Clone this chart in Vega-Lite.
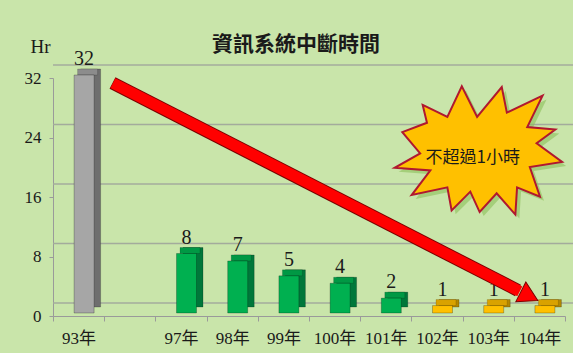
{
  "$schema": "https://vega.github.io/schema/vega-lite/v6.json",
  "width": 512,
  "height": 238,
  "autosize": {"type": "none"},
  "padding": {"left": 53, "top": 78, "right": 8, "bottom": 37},
  "background": "#c9e5aa",
  "config": {"view": {"stroke": null}, "font": "Liberation Serif"},
  "title": {
    "text": "資訊系統中斷時間",
    "font": "Noto Sans CJK TC",
    "fontSize": 21,
    "fontWeight": "bold",
    "color": "#1a1a1a",
    "anchor": "middle",
    "dx": -13,
    "dy": 18,
    "offset": 0
  },
  "encoding": {
    "y": {
      "field": "value",
      "type": "quantitative",
      "scale": {"domain": [0, 32], "nice": false, "zero": true},
      "axis": {
        "values": [0, 8, 16, 24, 32],
        "grid": false,
        "domainColor": "#9a9a9a",
        "tickColor": "#9a9a9a",
        "tickSize": 4,
        "labelPadding": 8,
        "labelFont": "Liberation Serif",
        "labelFontSize": 17,
        "labelColor": "#1a1a1a",
        "title": "Hr",
        "titleAngle": 0,
        "titleX": -13,
        "titleY": -32,
        "titleAlign": "center",
        "titleBaseline": "middle",
        "titleFont": "Liberation Serif",
        "titleFontSize": 19,
        "titleFontWeight": "normal",
        "titleColor": "#1a1a1a"
      }
    }
  },
  "layer": [
    {
      "data": {"values": [{"value": 0}, {"value": 8}, {"value": 16}, {"value": 24}, {"value": 32}]},
      "mark": {"type": "rule", "color": "#a3ab9c", "strokeWidth": 1.3, "xOffset": 20, "x2Offset": 2, "yOffset": -13}
    },
    {
      "data": {
        "values": [
          {"year": "93年", "value": 32, "group": "a"},
          {"year": "97年", "value": 8, "group": "b"},
          {"year": "98年", "value": 7, "group": "b"},
          {"year": "99年", "value": 5, "group": "b"},
          {"year": "100年", "value": 4, "group": "b"},
          {"year": "101年", "value": 2, "group": "b"},
          {"year": "102年", "value": 1, "group": "c"},
          {"year": "103年", "value": 1, "group": "c"},
          {"year": "104年", "value": 1, "group": "c"}
        ]
      },
      "encoding": {
        "x": {
          "field": "year",
          "type": "nominal",
          "sort": null,
          "scale": {
            "domain": ["93年", " ", "97年", "98年", "99年", "100年", "101年", "102年", "103年", "104年"],
            "paddingInner": 0,
            "paddingOuter": 0
          },
          "axis": {
            "title": null,
            "labelAngle": 0,
            "tickBand": "extent",
            "domainColor": "#9a9a9a",
            "tickColor": "#9a9a9a",
            "tickSize": 5,
            "labelPadding": 9,
            "labelFont": "Liberation Serif, Noto Sans CJK TC",
            "labelFontSize": 17,
            "labelColor": "#1a1a1a"
          }
        }
      },
      "layer": [
        {
          "mark": {"type": "bar", "width": 20, "xOffset": 12, "yOffset": -9, "y2Offset": -5, "stroke": "black", "strokeOpacity": 0.3, "strokeWidth": 0.7},
          "encoding": {
            "color": {"field": "group", "type": "nominal", "scale": {"domain": ["a", "b", "c"], "range": ["#6e6e6e", "#00773a", "#b38800"]}, "legend": null}
          }
        },
        {
          "mark": {"type": "bar", "width": 20, "xOffset": 9, "yOffset": -9, "y2Offset": -3, "stroke": "black", "strokeOpacity": 0.25, "strokeWidth": 0.6},
          "encoding": {
            "y2": {"field": "value"},
            "color": {"field": "group", "type": "nominal", "scale": {"domain": ["a", "b", "c"], "range": ["#8c8c8c", "#009844", "#d9a200"]}, "legend": null}
          }
        },
        {
          "mark": {"type": "bar", "width": 20, "xOffset": 5.5, "yOffset": -3, "y2Offset": -3, "stroke": "black", "strokeOpacity": 0.35, "strokeWidth": 0.7},
          "encoding": {
            "color": {"field": "group", "type": "nominal", "scale": {"domain": ["a", "b", "c"], "range": ["#a6a6a6", "#00b050", "#ffc000"]}, "legend": null}
          }
        },
        {
          "mark": {"type": "text", "xOffset": 5.5, "yOffset": -13, "baseline": "alphabetic", "font": "Liberation Serif", "fontSize": 20, "color": "#1a1a1a"},
          "encoding": {"text": {"field": "value", "type": "quantitative"}}
        }
      ],
      "resolve": {"scale": {"color": "independent"}}
    },
    {
      "encoding": {
        "x": {"field": "x", "type": "quantitative", "scale": {"domain": [0, 10], "nice": false, "zero": false}, "axis": null}
      },
      "layer": [
        {
          "data": {"values": [{"value": 0}, {"value": 8}, {"value": 16}, {"value": 24}, {"value": 32}]},
          "mark": {"type": "rule", "color": "#a3ab9c", "strokeWidth": 1.2, "x2Offset": 20, "y2Offset": -13},
          "encoding": {"x": {"datum": 0}, "x2": {"datum": 0}, "y2": {"field": "value"}}
        },
        {
          "data": {"values": [{"x": 1.162, "value": 31.33}, {"x": 9.082, "value": 3.44}]},
          "mark": {"type": "line", "color": "#7a0000", "strokeWidth": 13, "strokeCap": "butt"}
        },
        {
          "data": {"values": [{"x": 9.248, "value": 2.86}]},
          "mark": {"type": "point", "shape": "triangle", "size": 484, "angle": 117, "filled": true, "fill": "#ff0000", "stroke": "#7a0000", "strokeWidth": 1, "opacity": 1}
        },
        {
          "data": {"values": [{"x": 1.17, "value": 31.32}, {"x": 9.117, "value": 3.32}]},
          "mark": {"type": "line", "color": "#ff0000", "strokeWidth": 11, "strokeCap": "butt"}
        },
        {
          "data": {"values": [{"x": 8.30, "value": 22.32}]},
          "mark": {"type": "point", "shape": "M-0.65,-0.53L-0.36,-0.39L-0.19,-0.75L-0.01,-0.39L0.28,-0.74L0.34,-0.44L0.76,-0.64L0.58,-0.27L0.91,-0.24L0.69,-0.08L0.99,0.14L0.61,0.2L0.73,0.55L0.46,0.44L0.44,0.76L0.22,0.51L0.02,0.73L-0.09,0.49L-0.31,0.71L-0.36,0.44L-0.78,0.53L-0.56,0.24L-0.98,0.21L-0.68,0.04L-0.89,-0.21L-0.6,-0.32Z", "size": 28900, "filled": true, "fill": "#8cbf5a", "opacity": 0.6, "strokeWidth": 0, "xOffset": 4, "yOffset": 4}
        },
        {
          "data": {"values": [{"x": 8.30, "value": 22.32}]},
          "mark": {"type": "point", "shape": "M-0.65,-0.53L-0.36,-0.39L-0.19,-0.75L-0.01,-0.39L0.28,-0.74L0.34,-0.44L0.76,-0.64L0.58,-0.27L0.91,-0.24L0.69,-0.08L0.99,0.14L0.61,0.2L0.73,0.55L0.46,0.44L0.44,0.76L0.22,0.51L0.02,0.73L-0.09,0.49L-0.31,0.71L-0.36,0.44L-0.78,0.53L-0.56,0.24L-0.98,0.21L-0.68,0.04L-0.89,-0.21L-0.6,-0.32Z", "size": 28900, "filled": true, "fill": "#ffc000", "opacity": 1, "stroke": "#b0182f", "strokeWidth": 2}
        },
        {
          "data": {"values": [{"x": 8.20, "value": 21.24, "label": "不超過1小時"}]},
          "mark": {"type": "text", "font": "Noto Sans CJK TC", "fontSize": 17, "color": "#1a1a1a", "baseline": "middle", "align": "center"},
          "encoding": {"text": {"field": "label"}}
        }
      ]
    }
  ],
  "resolve": {"scale": {"x": "independent"}}
}
